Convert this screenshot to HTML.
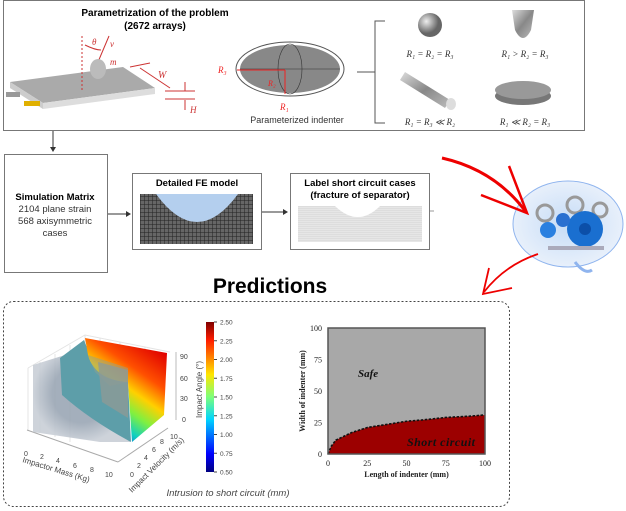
<!DOCTYPE html>
<html><head><meta charset="utf-8"><style>
body{margin:0;background:#fff}
svg{display:block;font-family:"Liberation Sans",sans-serif}
.serif{font-family:"Liberation Serif",serif}
</style></head><body>
<svg width="626" height="511" viewBox="0 0 626 511">
<defs>
<linearGradient id="cb" x1="0" y1="1" x2="0" y2="0">
<stop offset="0" stop-color="#00007f"/><stop offset="0.12" stop-color="#0000ff"/><stop offset="0.35" stop-color="#00d4ff"/><stop offset="0.5" stop-color="#7dff7a"/><stop offset="0.65" stop-color="#ffe600"/><stop offset="0.88" stop-color="#ff1c00"/><stop offset="1" stop-color="#7f0000"/></linearGradient>
<linearGradient id="face" x1="0.9" y1="0.1" x2="0.4" y2="1">
<stop offset="0" stop-color="#e00000"/><stop offset="0.3" stop-color="#ff5000"/><stop offset="0.5" stop-color="#ffd000"/><stop offset="0.68" stop-color="#80f040"/><stop offset="0.85" stop-color="#10d0c0"/><stop offset="1" stop-color="#1060e0"/></linearGradient>
<radialGradient id="sph" cx="0.35" cy="0.35"><stop offset="0" stop-color="#eee"/><stop offset="1" stop-color="#666"/></radialGradient>
<linearGradient id="cyl" x1="0" y1="0" x2="1" y2="1"><stop offset="0" stop-color="#ddd"/><stop offset="0.5" stop-color="#888"/><stop offset="1" stop-color="#bbb"/></linearGradient>
<radialGradient id="brain" cx="0.5" cy="0.5"><stop offset="0" stop-color="#c6dcf6"/><stop offset="1" stop-color="#e8f0fb"/></radialGradient>
<radialGradient id="gray3d" cx="0.5" cy="0.5"><stop offset="0.6" stop-color="#9aa6b4"/><stop offset="1" stop-color="#c8ced6"/></radialGradient>
<pattern id="mesh" width="4" height="4" patternUnits="userSpaceOnUse"><rect width="4" height="4" fill="#666"/><path d="M0 0H4M0 0V4" stroke="#222" stroke-width="1"/></pattern>
<pattern id="mesh2" width="3" height="2" patternUnits="userSpaceOnUse"><rect width="3" height="2" fill="#e6e6e6"/><path d="M0 0H3" stroke="#c8c8c8" stroke-width="0.6"/></pattern>
</defs>

<rect x="3.5" y="0.5" width="581" height="130" fill="#fff" stroke="#777"/>
<text x="155" y="16" font-size="10" font-weight="bold" text-anchor="middle">Parametrization of the problem</text>
<text x="155" y="29" font-size="10" font-weight="bold" text-anchor="middle">(2672 arrays)</text>
<g>
<polygon points="10,82 123,67 155,88 43,103" fill="#aaa"/>
<polygon points="43,103 155,88 155,94 43,109" fill="#ddd"/>
<polygon points="10,82 43,103 43,109 10,88" fill="#ccc"/>
<rect x="6" y="92" width="14" height="5" fill="#999"/>
<rect x="24" y="101" width="16" height="5" fill="#e0b000"/>
</g>
<g stroke="#c33" fill="none">
<line x1="82" y1="36" x2="82" y2="90" stroke-dasharray="2,2"/>
<path d="M85 45 Q95 50 101 50"/>
<line x1="109" y1="36" x2="98" y2="62"/>
<ellipse cx="98" cy="69" rx="8" ry="10" fill="#bbb" stroke="none"/>
<line x1="130" y1="67" x2="150" y2="63"/><line x1="140" y1="68" x2="170" y2="88"/>
<line x1="165" y1="91" x2="195" y2="91"/><line x1="165" y1="99" x2="195" y2="99"/>
<line x1="185" y1="82" x2="185" y2="91"/><line x1="185" y1="100" x2="185" y2="110"/>
</g>
<text x="92" y="45" font-size="9" fill="#c33" font-style="italic" class="serif">θ</text>
<text x="110" y="47" font-size="9" fill="#c33" font-style="italic" class="serif">v</text>
<text x="110" y="65" font-size="9" fill="#c33" font-style="italic" class="serif">m</text>
<text x="158" y="78" font-size="10" fill="#c33" font-style="italic" class="serif">W</text>
<text x="190" y="113" font-size="9" fill="#c33" font-style="italic" class="serif">H</text>
<g>
<ellipse cx="290" cy="69" rx="54" ry="27" fill="#fff" stroke="#555"/>
<ellipse cx="290" cy="69" rx="50" ry="24" fill="#888"/>
<line x1="240" y1="69" x2="340" y2="69" stroke="#333" stroke-width="0.6"/>
<ellipse cx="290" cy="69" rx="12" ry="25" fill="none" stroke="#333" stroke-width="0.6"/>
<line x1="237" y1="70" x2="285" y2="70" stroke="#e22"/><line x1="285" y1="70" x2="285" y2="94" stroke="#e22"/>
<text x="218" y="73" font-size="9" fill="#e22" font-style="italic" class="serif">R₃</text>
<text x="268" y="86" font-size="8" fill="#e22" font-style="italic" class="serif">R₂</text>
<text x="280" y="110" font-size="9" fill="#e22" font-style="italic" class="serif">R₁</text>
</g>
<text x="297" y="123" font-size="9" fill="#333" text-anchor="middle">Parameterized indenter</text>
<path d="M385 21 H375 V123 H385 M357 72 H375" fill="none" stroke="#555"/>
<circle cx="430" cy="25" r="12" fill="url(#sph)"/>
<path d="M512 10 L534 10 L531 30 Q523 46 515 30 Z" fill="url(#cyl)"/>
<path d="M405 72 L450 100 L445 108 L400 80 Z" fill="url(#cyl)"/>
<ellipse cx="451" cy="104" rx="5" ry="6" fill="#ddd"/>
<ellipse cx="523" cy="96" rx="28" ry="9" fill="#777"/>
<ellipse cx="523" cy="90" rx="28" ry="9" fill="#999"/>
<g class="serif" font-size="9" font-style="italic" text-anchor="middle" fill="#333">
<text x="430" y="57">R₁ = R₂ = R₃</text>
<text x="525" y="57">R₁ &gt; R₂ = R₃</text>
<text x="430" y="125">R₁ = R₃ ≪ R₂</text>
<text x="525" y="125">R₁ ≪ R₂ = R₃</text>
</g>

<line x1="53" y1="131" x2="53" y2="149" stroke="#333"/><polygon points="50,147 56,147 53,152" fill="#333"/>
<rect x="4.5" y="154.5" width="103" height="118" fill="#fff" stroke="#777"/>
<g font-size="9.5" text-anchor="middle" fill="#333">
<text x="55" y="200" font-weight="bold" fill="#000">Simulation Matrix</text>
<text x="55" y="212">2104 plane strain</text>
<text x="55" y="224">568 axisymmetric</text>
<text x="55" y="236">cases</text>
</g>
<line x1="108" y1="214" x2="128" y2="214" stroke="#333"/><polygon points="126,211 131,214 126,217" fill="#333"/>
<rect x="132.5" y="173.5" width="129" height="76" fill="#fff" stroke="#777"/>
<text x="197" y="186" font-size="9.5" font-weight="bold" text-anchor="middle">Detailed FE model</text>
<rect x="140" y="194" width="113" height="50" fill="url(#mesh)"/>
<path d="M156 194 Q197 250 238 194 Z" fill="#b4cfee"/>
<line x1="262" y1="212" x2="285" y2="212" stroke="#333"/><polygon points="283,209 288,212 283,215" fill="#333"/>
<rect x="290.5" y="173.5" width="139" height="76" fill="#fff" stroke="#777"/>
<text x="360" y="186" font-size="9.5" font-weight="bold" text-anchor="middle">Label short circuit cases</text>
<text x="360" y="198" font-size="9.5" font-weight="bold" text-anchor="middle">(fracture of separator)</text>
<path d="M298 206 H335 Q358 228 380 206 H422 V242 H298 Z" fill="url(#mesh2)"/>
<line x1="430" y1="211" x2="434" y2="211" stroke="#999"/>

<g>
<ellipse cx="568" cy="224" rx="55" ry="43" fill="url(#brain)" stroke="#8fb4ee"/>
<path d="M575 262 Q585 275 592 270" fill="none" stroke="#8fb4ee" stroke-width="3"/>
<circle cx="545" cy="213" r="8" fill="none" stroke="#999" stroke-width="3"/>
<circle cx="575" cy="205" r="8" fill="none" stroke="#999" stroke-width="3"/>
<circle cx="600" cy="210" r="7" fill="none" stroke="#999" stroke-width="3"/>
<circle cx="585" cy="229" r="18" fill="#1a6fd0"/><circle cx="585" cy="229" r="6" fill="#0c4fa8"/>
<circle cx="548" cy="230" r="8" fill="#2a80e0"/><circle cx="563" cy="220" r="7" fill="#2a70d0"/>
<rect x="548" y="246" width="56" height="4" fill="#aab"/>
</g>
<path d="M442 158 Q495 170 526 212" fill="none" stroke="#e00" stroke-width="3"/>
<path d="M481 195 L527 213 L509 166" fill="none" stroke="#e00" stroke-width="2.5"/>
<path d="M538 254 Q505 265 484 292" fill="none" stroke="#e00" stroke-width="1.8"/>
<path d="M489 268 L483 294 L512 288" fill="none" stroke="#e00" stroke-width="1.8"/>

<text x="270" y="293" font-size="21" font-weight="bold" text-anchor="middle">Predictions</text>
<rect x="3.5" y="301.5" width="506" height="205" rx="10" fill="none" stroke="#444" stroke-dasharray="2,2"/>

<g>
<path d="M28 368 L85 335 L170 352 M28 368 L28 430 M85 335 L85 400 M40 362 L40 432 M55 354 L55 437 M70 345 L70 442 M100 338 L100 402 M120 342 L120 404 M145 347 L145 407" fill="none" stroke="#e4e4e4"/>
<line x1="27" y1="430" x2="118" y2="462" stroke="#aaa"/><line x1="118" y1="462" x2="168" y2="428" stroke="#aaa"/>
<line x1="176" y1="352" x2="176" y2="420" stroke="#bbb"/>
<polygon points="33,365 65,355 84,345 128,382 130,442 100,442 33,432" fill="url(#gray3d)" opacity="0.9"/>
<path d="M60 358 L84 340 L90 355 Q95 380 128 382 L131 442 Q90 420 62 395 Z" fill="#5d9ea9"/>
<path d="M85 338 L167 353 L164 415 L132 442 L128 382 Q95 380 88 355 Z" fill="url(#face)"/>
<polygon points="88,355 128,368 128,382 110,386 95,372" fill="#8fa090" opacity="0.5"/>
<polygon points="98,362 128,370 128,418 102,402" fill="#8d9a96" opacity="0.8"/>
<g font-size="7" fill="#444">
<text x="180" y="359">90</text><text x="180" y="381">60</text><text x="180" y="401">30</text><text x="182" y="422">0</text>
<text x="24" y="456">0</text><text x="40" y="459">2</text><text x="56" y="463">4</text><text x="73" y="468">6</text><text x="90" y="472">8</text><text x="105" y="477">10</text>
<text x="130" y="477">0</text><text x="137" y="468">2</text><text x="144" y="460">4</text><text x="152" y="452">6</text><text x="160" y="444">8</text><text x="170" y="439">10</text>
</g>
<text x="22" y="462" font-size="8" fill="#444" transform="rotate(17 22 462)">Impactor Mass (Kg)</text>
<text x="132" y="493" font-size="8" fill="#444" transform="rotate(-45 132 493)">Impact Velocity (m/s)</text>
<text x="202" y="418" font-size="8" fill="#444" transform="rotate(-90 202 418)">Impact Angle (°)</text>
</g>
<rect x="206" y="322" width="8" height="150" fill="url(#cb)"/>
<g id="cbticks" font-size="6.5" fill="#444"></g>
<text x="228" y="496" font-size="9.5" font-style="italic" fill="#444" text-anchor="middle">Intrusion to short circuit (mm)</text>

<g id="chart"></g>
</svg>
<script>
const cbTicks=["0.50","0.75","1.00","1.25","1.50","1.75","2.00","2.25","2.50"];
const lengthVals=[0,1,2,5,10,15,25,40,50,60,75,90,100];
const widthVals=[0,3,6,11,14,17,21,24,26,27,29,30,31];
const xTicks=[0,25,50,75,100];
const yTicks=[0,25,50,75,100];
const NS="http://www.w3.org/2000/svg";
function mk(t,a,p){const e=document.createElementNS(NS,t);for(const k in a)e.setAttribute(k,a[k]);p.appendChild(e);return e;}
const cbg=document.getElementById('cbticks');
cbTicks.forEach((t,i)=>{const y=472-i*150/(cbTicks.length-1);
 const l=mk('line',{x1:214,x2:217,y1:y,y2:y,stroke:'#444'},cbg);
 
 
 const tx=mk('text',{x:220,y:y+2.5},cbg);tx.textContent=t;
 
 });
const g=document.getElementById('chart');
const X0=328,X1=485,Y0=454,Y1=328;
const sx=v=>X0+v/100*(X1-X0), sy=v=>Y0-v/100*(Y0-Y1);
const bg=mk('rect',{x:X0,y:Y1,width:X1-X0,height:Y0-Y1,fill:'#a8a8a8'},g);


let d='M'+sx(lengthVals[0])+' '+sy(0);
lengthVals.forEach((v,i)=>{d+=' L'+sx(v)+' '+sy(widthVals[i]);});
d+=' L'+sx(100)+' '+sy(0)+' Z';
const reg=mk('path',{d:d,fill:'#9c0000'},g);


let d2='';lengthVals.forEach((v,i)=>{d2+=(i?' L':'M')+sx(v)+' '+sy(widthVals[i]);});
const bd=mk('path',{d:d2,fill:'none',stroke:'#111','stroke-width':1.6,'stroke-dasharray':'2.5,1.5'},g);


mk('rect',{x:X0,y:Y1,width:X1-X0,height:Y0-Y1,fill:'none',stroke:'#555','stroke-width':1.5},g);
xTicks.forEach(t=>{const e=mk('text',{x:sx(t),y:Y0+12,'font-size':8,'text-anchor':'middle','font-family':'Liberation Serif',fill:'#222'},g);e.textContent=t;
 
 });
yTicks.forEach(t=>{const e=mk('text',{x:X0-6,y:sy(t)+3,'font-size':8,'text-anchor':'end','font-family':'Liberation Serif',fill:'#222'},g);e.textContent=t;
 
 });
const xl=mk('text',{x:(X0+X1)/2,y:Y0+23,'font-size':8,'font-weight':'bold','text-anchor':'middle','font-family':'Liberation Serif',fill:'#222'},g);xl.textContent='Length of indenter (mm)';


const yl=mk('text',{x:305,y:(Y0+Y1)/2,'font-size':8,'font-weight':'bold','text-anchor':'middle','font-family':'Liberation Serif',fill:'#222',transform:'rotate(-90 305 '+((Y0+Y1)/2)+')'},g);yl.textContent='Width of indenter (mm)';


const s1=mk('text',{x:358,y:377,'font-size':11,'font-weight':'bold','font-style':'italic','font-family':'Liberation Serif',fill:'#111'},g);s1.textContent='Safe';


const s2=mk('text',{x:407,y:446,'font-size':12,'font-weight':'bold','font-style':'italic','font-family':'Liberation Serif',fill:'#111',textLength:68},g);s2.textContent='Short circuit';


</script>
</body></html>
